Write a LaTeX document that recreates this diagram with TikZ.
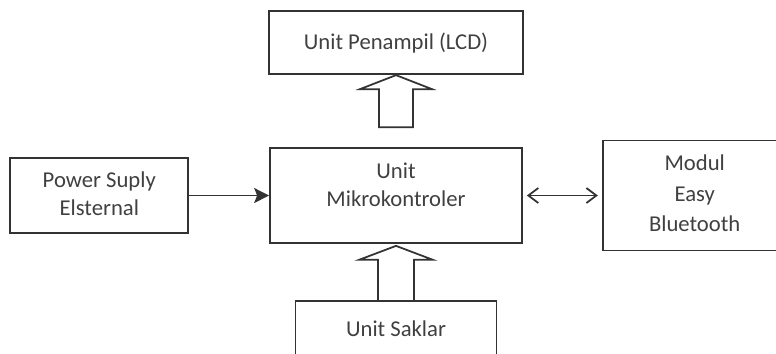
\documentclass[tikz,border=0pt]{standalone}
\usepackage{fontspec}
\setmainfont{Carlito}
\usetikzlibrary{positioning, calc, arrows.meta}

\newcommand{\lines}[1]{\begin{tabular}{@{}c@{}}#1\end{tabular}}

\begin{document}
\begin{tikzpicture}[x=0.02cm, y=-0.02cm,
        block/.style={rectangle, draw=black!80, line width=1pt, text=black!75, font=\fontsize{12.9}{16}\selectfont, inner sep=0pt},
        line/.style={draw=black!80, line width=1pt},
        hollow/.style={draw=black!80, line width=1pt, line join=miter}
    ]
        \clip (0,0) rectangle (776,353);

        % Central unit
        \node[block, minimum width=5.04cm, minimum height=1.9cm] (mikro) at (396,195.5) {\lines{Unit\\Mikrokontroler\\[9.7pt]}};

        % Surrounding units
        \node[block, above=1.44cm of mikro, minimum width=5.08cm, minimum height=1.26cm] (lcd) {Unit Penampil (LCD)};
        \node[block, left=1.6cm of mikro, minimum width=3.56cm, minimum height=1.5cm] (power) {\lines{Power Suply\\Elsternal}};
        \node[block, right=1.58cm of mikro, minimum width=3.68cm, minimum height=2.2cm] (bt) {\lines{Modul\\[1.5pt]Easy\\[1.5pt]Bluetooth}\hspace{0.4cm}};
        \node[block, below=1.12cm of mikro, minimum width=4.02cm, minimum height=1.1cm] (saklar) {Unit Saklar};

        \draw[line, -{Stealth[length=3mm, width=3mm, inset=0.6mm]}] (power) -- (mikro);
        \draw[line, {Straight Barb[length=2mm, width=3mm]}-{Straight Barb[length=2mm, width=3mm]}, shorten <=0.08cm, shorten >=0.08cm] (mikro) -- (bt);

        % Hollow arrows
        \draw[hollow] ($(mikro.north)+(-17,-20)$) -- ++(0,-38) -- ++(-19,0) -- (lcd.south -| mikro.north) -- ++(36,14) -- ++(-19,0) -- ++(0,38) -- cycle;
        \draw[hollow] ($(saklar.north)+(-18,0)$) -- ++(0,-40) -- ++(-19,0) -- ($(saklar.north)+(0,-54)$) -- ++(37,14) -- ++(-19,0) -- ++(0,40);

    \end{tikzpicture}
\end{document}
